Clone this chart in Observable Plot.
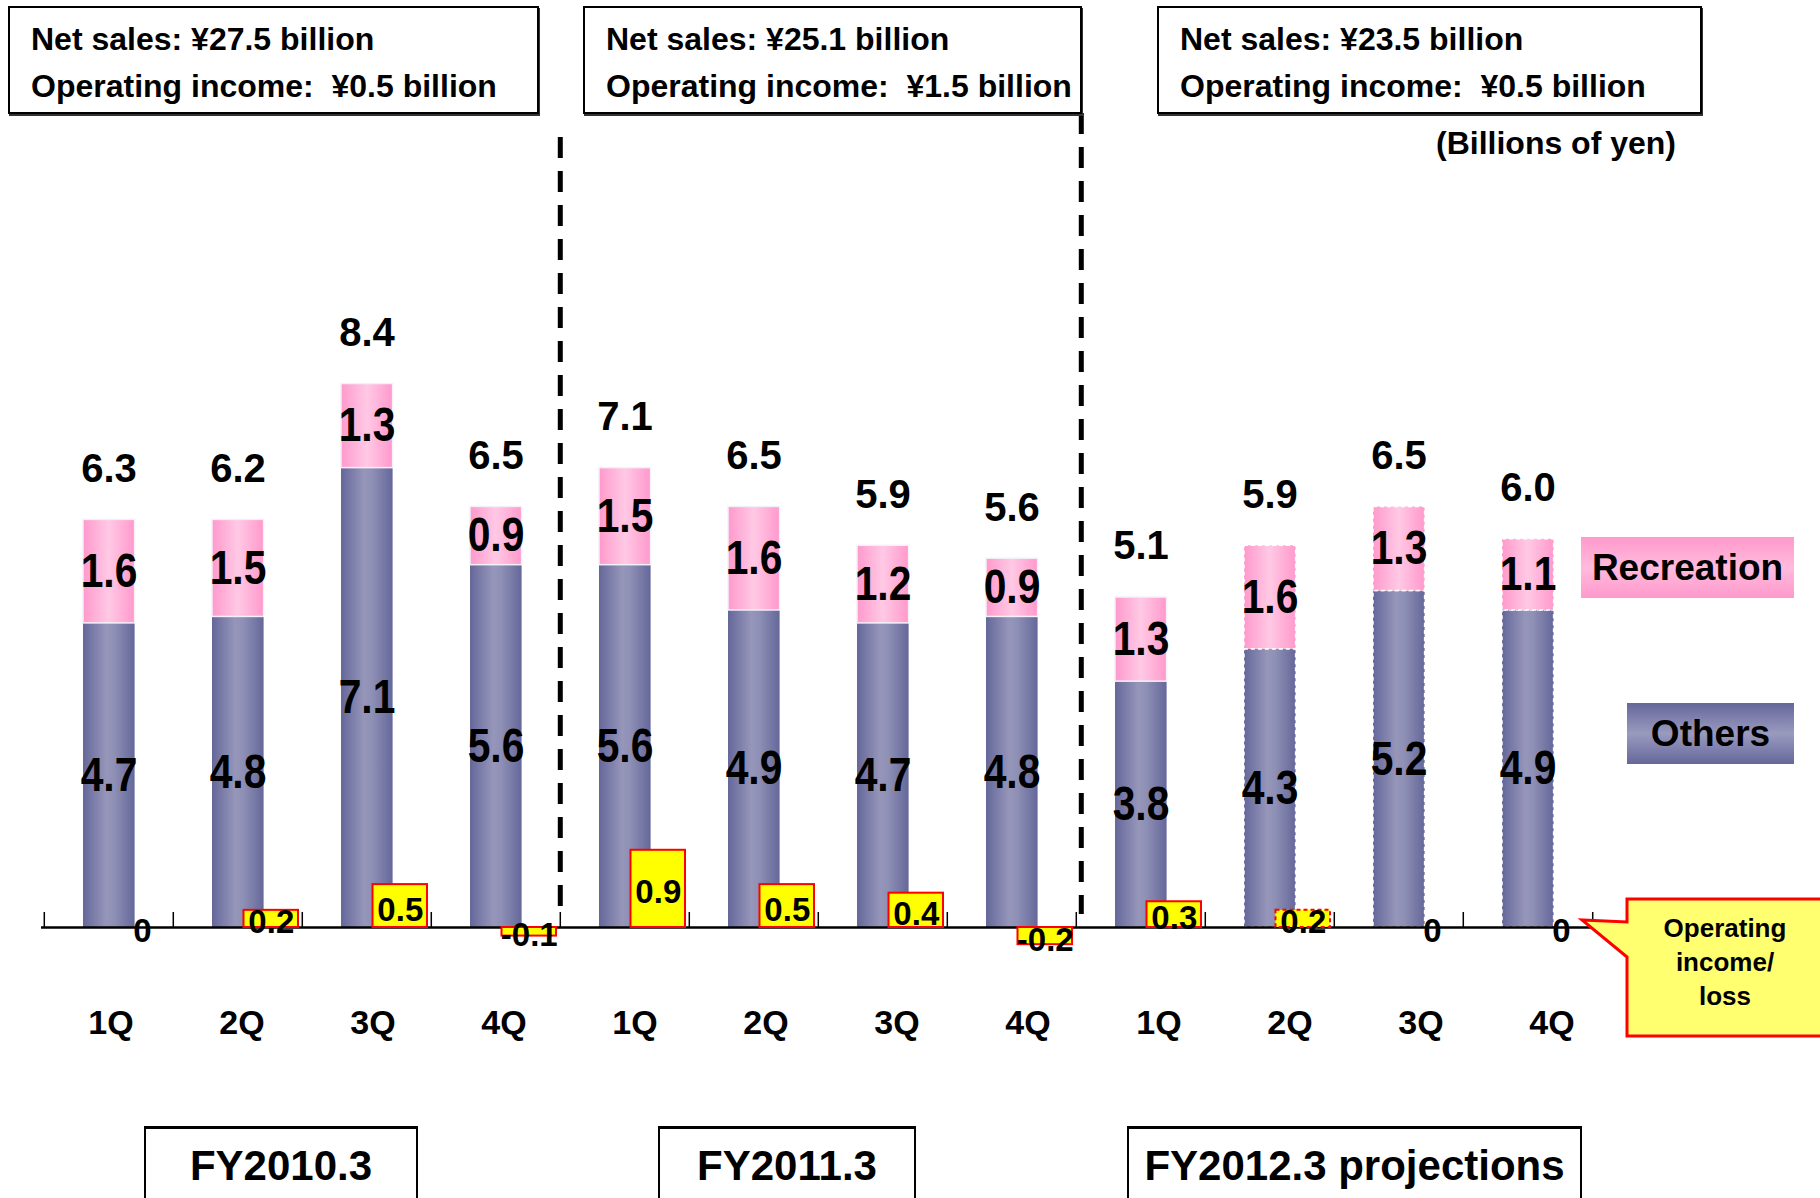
<!DOCTYPE html>
<html>
<head>
<meta charset="utf-8">
<script src="https://cdn.jsdelivr.net/npm/d3@7"></script>
<script src="https://cdn.jsdelivr.net/npm/@observablehq/plot@0.6"></script>
<style>
  body { margin: 0; background: #fff; }
  #wrap { position: relative; width: 1820px; height: 1198px; overflow: hidden; background: #fff;
          font-family: "Liberation Sans", Arial, Helvetica, sans-serif; font-weight: bold; color: #000; }
  #wrap > svg { position: absolute; left: 0; top: 0; }
  .box { position: absolute; box-sizing: border-box; border: 2px solid #000; background: #fff; white-space: pre; }
  .sum { padding: 8px 0 0 21px; font-size: 32px; line-height: 47px; box-shadow: 1px 2px 0 #333; }
  .fybox { text-align: center; font-size: 42px; line-height: 50px; padding-top: 12px; border-top-width: 3px; }
  .lab { position: absolute; white-space: pre; }
  .leg { position: absolute; box-sizing: border-box; text-align: center; font-size: 37px; }
</style>
</head>
<body>
<div id="wrap"></div>
<script>
// ---------------- data ----------------
const fiscalYears = ["FY2010.3","FY2010.3","FY2010.3","FY2010.3",
                     "FY2011.3","FY2011.3","FY2011.3","FY2011.3",
                     "FY2012.3","FY2012.3","FY2012.3","FY2012.3"];
const quarters    = ["1Q","2Q","3Q","4Q","1Q","2Q","3Q","4Q","1Q","2Q","3Q","4Q"];
const others      = [4.7, 4.8, 7.1, 5.6, 5.6, 4.9, 4.7, 4.8, 3.8, 4.3, 5.2, 4.9];
const recreation  = [1.6, 1.5, 1.3, 0.9, 1.5, 1.6, 1.2, 0.9, 1.3, 1.6, 1.3, 1.1];
const totals      = [6.3, 6.2, 8.4, 6.5, 7.1, 6.5, 5.9, 5.6, 5.1, 5.9, 6.5, 6.0];
const opIncome    = [0, 0.2, 0.5, -0.1, 0.9, 0.5, 0.4, -0.2, 0.3, 0.2, 0, 0];
const projection  = [false,false,false,false,false,false,false,false,false,true,true,true];

const yearLabels     = ["FY2010.3", "FY2011.3", "FY2012.3 projections"];
const netSalesText   = ["¥27.5", "¥25.1", "¥23.5"];
const opIncomeText   = ["¥0.5", "¥1.5", "¥0.5"];
const legendLabels   = ["Recreation", "Others"];
const calloutLabel   = "Operating\nincome/\nloss";
const unitLabel      = "(Billions of yen)";

// ---------------- layout (pixels) ----------------
const W = 1820, H = 1198;
const mLeft = 41, mRight = 226, mBottom = 271, mTop = 0;
const step = (W - mLeft - mRight) / 12;
const salesPx = 64.7, opPx = 85.8;
const baseY = H - mBottom;
const font = "'Liberation Sans', Arial, Helvetica, sans-serif";

const table = quarters.map((q, i) => ({
  key: fiscalYears[i] + " " + q, fy: fiscalYears[i], q,
  others: others[i], rec: recreation[i], total: totals[i],
  oi: opIncome[i], proj: projection[i]
}));
const keys = table.map(d => d.key);
const actual = table.filter(d => !d.proj);
const proj = table.filter(d => d.proj);
const firstOfYear = table.filter((d, i) => i > 0 && d.fy !== table[i - 1].fy);

const defs = () => {
  const g = d3.create("svg:defs");
  const grad = (id, stops) => {
    const lg = g.append("linearGradient").attr("id", id).attr("x1", 0).attr("x2", 1).attr("y1", 0).attr("y2", 0);
    stops.forEach(([o, c]) => lg.append("stop").attr("offset", o).attr("stop-color", c));
  };
  grad("gOthers", [[0, "#65679a"], [0.45, "#9696ba"], [0.6, "#8f90b6"], [1, "#65679a"]]);
  grad("gRec", [[0, "#ff99cc"], [0.5, "#ffc9e5"], [1, "#ff99cc"]]);
  return g.node();
};

const barOpts = {x: "key", insetLeft: 39, insetRight: 38.4};

const main = Plot.plot({
  width: W, height: H,
  marginLeft: mLeft, marginRight: mRight, marginTop: mTop, marginBottom: mBottom,
  style: {background: "transparent", fontFamily: font, overflow: "visible"},
  x: {type: "band", domain: keys, padding: 0, axis: null},
  y: {domain: [0, baseY / salesPx], axis: null},
  marks: [
    defs,
    Plot.barY(actual, {...barOpts, y1: 0, y2: "others", fill: "url(#gOthers)"}),
    Plot.barY(actual, {...barOpts, y1: "others", y2: d => d.others + d.rec, fill: "url(#gRec)",
                       stroke: "#f4f0f8", strokeWidth: 1.5}),
    Plot.barY(proj, {...barOpts, y1: 0, y2: "others", fill: "url(#gOthers)",
                     stroke: "white", strokeWidth: 1.5, strokeDasharray: "4,3"}),
    Plot.barY(proj, {...barOpts, y1: "others", y2: d => d.others + d.rec, fill: "url(#gRec)",
                     stroke: "white", strokeWidth: 1.5, strokeDasharray: "4,3"}),
    Plot.ruleY([0], {stroke: "#000", strokeWidth: 2.5}),
    Plot.ruleX(table, {x: "key", dx: -step / 2, insetTop: baseY - 15, stroke: "#000", strokeWidth: 1.5}),
    Plot.ruleX(table.slice(-1), {x: "key", dx: step / 2, insetTop: baseY - 15, stroke: "#000", strokeWidth: 1.5}),
    Plot.ruleX(firstOfYear.slice(0, 1), {x: "key", dx: -step / 2, insetTop: 137, insetBottom: 13,
                       stroke: "#000", strokeWidth: 5, strokeDasharray: "21,13"}),
    Plot.ruleX(firstOfYear.slice(1, 2), {x: "key", dx: -step / 2 + 5, insetTop: 113, insetBottom: 13,
                       stroke: "#000", strokeWidth: 5, strokeDasharray: "21,13"}),
    Plot.text(table, {x: "key", y: d => d.others / 2, text: d => d.others.toFixed(1),
                      fontSize: 48, fontWeight: "bold", fill: "#000"}),
    Plot.text(table, {x: "key", y: d => d.others + d.rec / 2, text: d => d.rec.toFixed(1),
                      fontSize: 48, fontWeight: "bold", fill: "#000"}),
    Plot.text(table, {x: "key", y: d => d.others + d.rec, text: d => d.total.toFixed(1),
                      dy: -51, fontSize: 40, fontWeight: "bold", fill: "#000"})
  ]
});

// quarter labels: spaced slightly wider than the bars, as in the original slide
const qLeft = 42.3, qRight = 200.3;
const qAxis = Plot.plot({
  width: W, height: H,
  marginLeft: qLeft, marginRight: qRight, marginTop: mTop, marginBottom: mBottom,
  style: {background: "transparent", fontFamily: font, overflow: "visible"},
  x: {type: "band", domain: keys, padding: 0, axis: null},
  y: {domain: [0, 1], axis: null},
  marks: [
    Plot.text(table, {x: "key", text: "q", frameAnchor: "bottom", dy: 106,
                      fontSize: 34, fontWeight: "bold", fill: "#000"})
  ]
});

const fmtOp = v => v === 0 ? "0" : v.toFixed(1);
const opBar = {x: "key", y: "oi", fill: "#ffff00", stroke: "#ff0000", strokeWidth: 2, insetLeft: 70.5, insetRight: 4};
const op = Plot.plot({
  width: W, height: H,
  marginLeft: mLeft, marginRight: mRight, marginTop: mTop, marginBottom: mBottom,
  style: {background: "transparent", fontFamily: font, overflow: "visible"},
  x: {type: "band", domain: keys, padding: 0, axis: null},
  y: {domain: [0, baseY / opPx], axis: null},
  marks: [
    Plot.barY(actual.filter(d => d.oi !== 0), opBar),
    Plot.barY(proj.filter(d => d.oi !== 0), {...opBar, strokeDasharray: "4,3"}),
    Plot.text(table, {x: "key", y: d => d.oi / 2, text: d => fmtOp(d.oi), dx: 33.3, dy: 4,
                      fontSize: 33, fontWeight: "bold", fill: "#000"})
  ]
});

const wrap = document.getElementById("wrap");
wrap.appendChild(main);
wrap.appendChild(qAxis);
wrap.appendChild(op);

// condense the segment value labels horizontally
main.querySelectorAll("text").forEach(t => {
  if (getComputedStyle(t).fontSize !== "48px") return;
  const tr = t.getAttribute("transform");
  if (tr) t.setAttribute("transform", tr + " scale(0.85,1)");
  else {
    const x = +t.getAttribute("x") || 0, y = +t.getAttribute("y") || 0;
    t.setAttribute("transform", `translate(${x},${y}) scale(0.85,1) translate(${-x},${-y})`);
  }
});

// ---------------- annotations ----------------
function div(cls, style, text) {
  const d = document.createElement("div");
  d.className = cls;
  Object.assign(d.style, style);
  if (text != null) d.textContent = text;
  wrap.appendChild(d);
  return d;
}
const sumBoxes = [[8, 531], [583, 499], [1157, 545]];
sumBoxes.forEach(([l, w], i) => {
  div("box sum", {left: l + "px", top: "6px", width: w + "px", height: "108px"},
      `Net sales: ${netSalesText[i]} billion\nOperating income:  ${opIncomeText[i]} billion`);
});
div("lab", {left: "1436px", top: "123px", fontSize: "32px", lineHeight: "40px"}, unitLabel);

const fyBoxes = [[144, 274], [658, 258], [1127, 455]];
fyBoxes.forEach(([l, w], i) => {
  div("box fybox", {left: l + "px", top: "1126px", width: w + "px", height: "100px"}, yearLabels[i]);
});

div("leg", {left: "1581px", top: "537px", width: "213px", height: "61px", lineHeight: "61px",
  background: "linear-gradient(to bottom, #ff99cc 0%, #ffbbdd 50%, #ff99cc 100%)"}, legendLabels[0]);
div("leg", {left: "1627px", top: "703px", width: "167px", height: "61px", lineHeight: "61px",
  background: "linear-gradient(to bottom, #65679a 0%, #9a9abf 50%, #65679a 100%)"}, legendLabels[1]);

// callout
const ns = "http://www.w3.org/2000/svg";
const cs = document.createElementNS(ns, "svg");
cs.setAttribute("width", W); cs.setAttribute("height", H);
const p = document.createElementNS(ns, "path");
p.setAttribute("d", "M1627,899 H1845 V1036 H1627 V957 L1582,920 L1627,922 Z");
p.setAttribute("fill", "#ffff70");
p.setAttribute("stroke", "#ff0000");
p.setAttribute("stroke-width", "3");
cs.appendChild(p);
wrap.appendChild(cs);
div("lab", {left: "1627px", top: "911px", width: "196px", textAlign: "center",
  fontSize: "26px", lineHeight: "34px"}, calloutLabel);
</script>
</body>
</html>
